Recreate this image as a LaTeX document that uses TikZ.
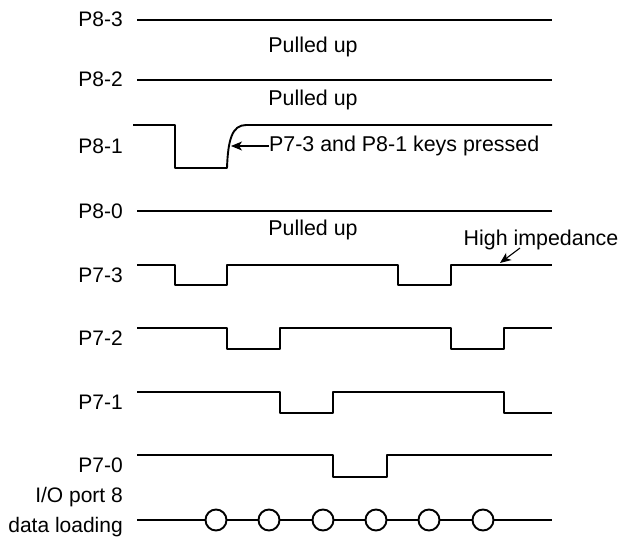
\documentclass[tikz,border=0pt]{standalone}
\usepackage{fontspec}
\setmainfont{Liberation Sans}
\usetikzlibrary{arrows.meta}
\definecolor{ink}{HTML}{000000}

\begin{document}
\begin{tikzpicture}[x=1pt,y=-1pt,
  sig/.style={ink,line width=1.9pt,line join=round},
  lbl/.style={ink,font=\fontsize{21}{23}\selectfont,anchor=east,inner sep=0pt},
  note/.style={ink,font=\fontsize{21.4}{23}\selectfont,inner sep=0pt},
  dot/.style={circle,draw=ink,fill=white,line width=1.9pt,minimum size=21pt,inner sep=0pt}]
  \useasboundingbox (0,0) rectangle (625,539);
  % port 8 lines
  \node[lbl] (p83) at (123,19){P8-3};
  \draw[sig] (137,20) -- (552,20);
  \node[note] (pu3) at (313,47){Pulled up};
  \node[lbl] (p82) at (123,79){P8-2};
  \draw[sig] (137,80) -- (552,80);
  \node[note] (pu2) at (313,100){Pulled up};
  \node[lbl] (p81) at (123,146){P8-1};
  \draw[sig] (133,125) -- (175,125) -- (175,168) -- (227,168)
    .. controls (228,140) and (232,125) .. (246,125) -- (552,125);
  \coordinate (edge) at (231,146);
  \node[note,anchor=west] (keys) at (269,146){P7-3 and P8-1 keys pressed};
  \draw[ink,line width=1.1pt,-{Stealth[length=11pt,width=9pt,inset=3pt]}] (keys.west) -- (edge);
  \node[lbl] (p80) at (123,211){P8-0};
  \draw[sig] (137,211) -- (552,211);
  \node[note] (pu0) at (313,230){Pulled up};
  % port 7 scan lines
  \node[lbl] (p73) at (123,275){P7-3};
  \draw[sig] (137,265) -- (175,265) -- (175,285) -- (227,285) -- (227,265) -- (398,265)
    -- (398,285) -- (451,285) -- (451,265) -- (552,265);
  \node[note] (hiz) at (541,240){High impedance};
  \coordinate (hizpt) at (500,263);
  \draw[ink,line width=1.1pt,-{Stealth[length=11pt,width=9pt,inset=3pt]}] (520,248) -- (hizpt);
  \node[lbl] (p72) at (123,338){P7-2};
  \draw[sig] (137,328) -- (227,328) -- (227,349) -- (280,349) -- (280,328) -- (451,328)
    -- (451,349) -- (504,349) -- (504,328) -- (552,328);
  \node[lbl] (p71) at (123,402){P7-1};
  \draw[sig] (137,392) -- (280,392) -- (280,413) -- (333,413) -- (333,392) -- (504,392)
    -- (504,413) -- (552,413);
  \node[lbl] (p70) at (123,465){P7-0};
  \draw[sig] (137,455) -- (333,455) -- (333,477) -- (387,477) -- (387,455) -- (552,455);
  % data loading
  \node[lbl] (io) at (123,497){I/O port 8};
  \node[lbl] (load) at (123,527){data loading};
  \coordinate (ds) at (137,520);
  \coordinate (de) at (552,520);
  \foreach \i/\x in {1/216,2/269,3/323,4/376,5/429,6/483}
    \node[dot] (d\i) at (\x,520){};
  \draw[sig] (ds) -- (d1) (d1) -- (d2) (d2) -- (d3) (d3) -- (d4) (d4) -- (d5) (d5) -- (d6) (d6) -- (de);
\end{tikzpicture}
\end{document}
